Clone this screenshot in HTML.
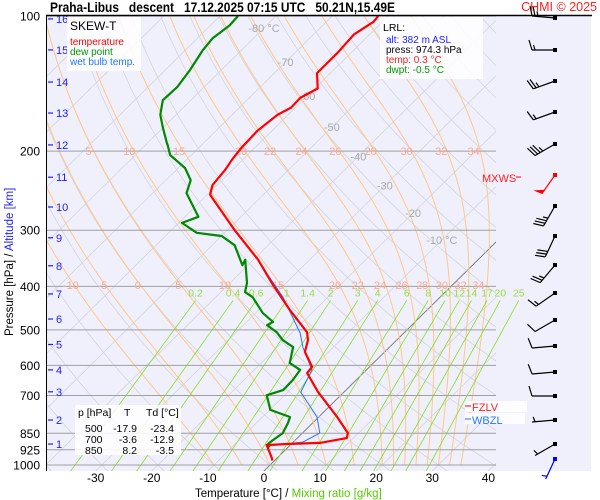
<!DOCTYPE html>
<html><head><meta charset="utf-8"><style>
body{margin:0;background:#fff;}
svg{display:block;font-family:"Liberation Sans",sans-serif;}
</style></head><body>
<svg id="c" width="600" height="500" viewBox="0 0 600 500" xmlns="http://www.w3.org/2000/svg">
<defs>
<clipPath id="plot"><rect x="47" y="16" width="449" height="455"/></clipPath>
<clipPath id="plotw"><rect x="47" y="16" width="543" height="455"/></clipPath>
</defs>
<rect x="46" y="16" width="545" height="455" fill="#f0f0fc"/>
<g id="grid" clip-path="url(#plot)"></g>
<g id="mixg" clip-path="url(#plotw)"></g>
<g id="plines"></g>
<g id="glabels"></g>
<g id="series" clip-path="url(#plot)"></g>
<g id="winds"></g>
<g id="axes"></g>
<line x1="46" y1="15.5" x2="592" y2="15.5" stroke="#000" stroke-width="1.5"/>
<line x1="46.5" y1="16" x2="46.5" y2="471" stroke="#000" stroke-width="1"/>
<text x="50" y="12" font-size="14" font-weight="bold" xml:space="preserve" textLength="345" lengthAdjust="spacingAndGlyphs">Praha-Libus   descent   17.12.2025 07:15 UTC   50.21N,15.49E</text>
<text x="597" y="11" font-size="12.5" fill="#ff2020" text-anchor="end">CHMI © 2025</text>
<g>
<rect x="67" y="17" width="74" height="54" fill="#fff" opacity="0.85"/>
<text x="70" y="30" font-size="12">SKEW-T</text>
<text x="70" y="45" font-size="10" fill="#ff0000">temperature</text>
<text x="70" y="55" font-size="10" fill="#009900">dew point</text>
<text x="70" y="65" font-size="10" fill="#2277ff">wet bulb temp.</text>
</g>
<g>
<rect x="380" y="17" width="103" height="62" fill="#fff" opacity="0.85"/>
<text x="383" y="31" font-size="10.5">LRL:</text>
<text x="386" y="43" font-size="10" fill="#2020ff">alt: 382 m ASL</text>
<text x="386" y="53" font-size="10">press: 974.3 hPa</text>
<text x="386" y="63" font-size="10" fill="#ff2020">temp: 0.3 °C</text>
<text x="386" y="73" font-size="10" fill="#009900">dwpt: -0.5 °C</text>
</g>
<g font-size="10.5">
<rect x="75" y="405" width="106" height="50" fill="#fff" opacity="0.85"/>
<text x="78" y="416">p [hPa]</text><text x="124" y="416">T</text><text x="146" y="416">Td [°C]</text>
<text x="85" y="432">500</text><text x="137" y="432" text-anchor="end">-17.9</text><text x="174" y="432" text-anchor="end">-23.4</text>
<text x="85" y="443">700</text><text x="137" y="443" text-anchor="end">-3.6</text><text x="174" y="443" text-anchor="end">-12.9</text>
<text x="85" y="454">850</text><text x="137" y="454" text-anchor="end">8.2</text><text x="174" y="454" text-anchor="end">-3.5</text>
</g>
<g font-size="11">
<rect x="465" y="401" width="62" height="11" fill="#fff" opacity="0.85"/>
<rect x="465" y="413" width="60" height="11" fill="#fff" opacity="0.85"/>
<line x1="465" y1="406" x2="471" y2="406" stroke="#ff0000"/><text x="472" y="411" fill="#ff2020">FZLV</text>
<line x1="465" y1="419" x2="471" y2="419" stroke="#2277ff"/><text x="472" y="424" fill="#2277ff">WBZL</text>
<text x="482" y="182" fill="#ff2020">MXWS</text><line x1="516" y1="177" x2="521" y2="177" stroke="#ff0000"/>
</g>
<text x="195" y="497" font-size="11.5">Temperature [°C]  /  <tspan fill="#55cc00">Mixing ratio [g/kg]</tspan></text>
<text transform="translate(13,336) rotate(-90)" font-size="11.5">Pressure [hPa]  /  <tspan fill="#2020ff">Altitude [km]</tspan></text>
</svg>
<script>
// ---- data ----
const tempP = [977,962,903,898,893,871,849,782,688,624,605,560,527,506,452,397,349,300,250,238,220,209,199,196,180,166,160,152,145,134,121,110,103,100];
const tempT = [-0.4,-1.1,-4.2,-0.8,4.9,8.8,8.1,3.3,-4.6,-10.0,-10.2,-14.2,-15.8,-17.4,-24.4,-32.0,-39.2,-48.7,-59.5,-60.8,-61.3,-61.9,-62.3,-62.4,-62.6,-61.9,-60.8,-60.9,-59.5,-62.4,-62.4,-62.8,-61.6,-61.8];
const dewP = [912,903,880,849,806,782,754,699,681,647,614,593,546,527,506,488,480,459,423,412,393,349,359,324,309,304,289,280,248,232,218,204,194,192,177,166,154,144,132,119,112,105,100];
const dewT = [-3.3,-4.2,-4.0,-3.5,-4.4,-5.1,-9.9,-13.2,-11.2,-11.3,-11.8,-14.9,-17.2,-20.3,-22.8,-25.8,-25.3,-28.7,-33.4,-35.7,-37.0,-41.5,-41.0,-46.0,-50.0,-55.0,-59.4,-57.6,-64.0,-65.6,-68.8,-73.8,-76.0,-76.5,-80.1,-82.8,-85.0,-84.8,-85.6,-86.9,-87.3,-86.6,-86.8];
const wbP = [903,902,889,849,782,688,614,547,508,423,355];
const wbT = [-4.0,-2.4,1.7,3.1,-0.3,-7.7,-9.7,-15.4,-18.5,-28.0,-38.3];
const pLevels = [100,200,300,400,500,600,700,850,925,1000];
const altKm = [16,15,14,13,12,11,10,9,8,7,6,5,4,3,2,1];
const altP = [101.5,119,140.3,164.5,193.7,228.6,266.3,311.8,360,416,473,539,614,687,794,898];
const xTicks = [-30,-20,-10,0,10,20,30,40];
const isoLabels = [-80,-70,-60,-50,-40,-30,-20,-10];
const isoLabelP = [106.3,126.6,150.6,176.8,205.3,238.6,274.8,315.5];
const moistTheta = [-10,-5,0,5,10,15,20,22,24,26,28,30,32,34];
const mixW = [0.2,0.4,0.6,1,1.4,2,3,4,6,8,10,12,14,17,20,25];
const windDir = [275,270,250,250,240,215,210,205,220,235,240,265,265,270,265,240,205];
const windSpd = [25,15,25,15,35,50,35,30,25,15,10,10,10,10,5,5,5];
const windY = [18,50,81,112,144,175,206,236,265,293,320,346,372,396,420,444,459];

// ---- scales ----
function yP(p){return 16+449*Math.log10(p/100);}
function xT(T,p){return 264+5.61*T+1.013*(471-yP(p));}
const NS='http://www.w3.org/2000/svg';
function mk(tag,attrs,parent){const e=document.createElementNS(NS,tag);for(const k in attrs)e.setAttribute(k,attrs[k]);parent.appendChild(e);return e;}
const grid=document.getElementById('grid'),gl=document.getElementById('glabels');

for(let T=-130;T<=50;T+=10){
  const l=mk('line',{x1:xT(T,1050),y1:yP(1050),x2:xT(T,95),y2:yP(95),stroke:T===0?'#666':'#d4d4dc','stroke-width':0.8},grid);
  
  
}
for(let th=-40;th<=220;th+=10){
  let d='';
  for(let p=1050;p>=95;p-=10){const T=(th+273.15)*Math.pow(p/1000,0.2857)-273.15;d+=(d?'L':'M')+xT(T,p).toFixed(1)+','+yP(p).toFixed(1);}
  const e=mk('path',{d:d,fill:'none',stroke:'#d4d4dc','stroke-width':0.8},grid);
  
  
}
function es(T){return 6.112*Math.exp(17.67*T/(T+243.5));}
function moist(th){
  const pts=[];let T=th+273.15;
  for(let p=1000;p>=95;p-=2){
    pts.push([p,T-273.15]);
    const e=es(T-273.15),rs=0.622*e/(p-e);
    const dTdp=(287*T+2.5e6*rs)/(1004+2.5e6*2.5e6*rs*0.622/(287*T*T))/p;
    T-=dTdp*2;
  }
  return pts;
}
moistTheta.forEach(th=>{
  const pts=moist(th);let d='';
  pts.forEach(q=>{d+=(d?'L':'M')+xT(q[1],q[0]).toFixed(1)+','+yP(q[0]).toFixed(1);});
  const e=mk('path',{d:d,fill:'none',stroke:'#ffc888','stroke-width':1},grid);
  
  
  [207,412].forEach(pl=>{
    const q=pts.find(z=>z[0]<=pl);if(!q)return;
    const x=xT(q[1],q[0])-8;
    if(x<50||x>490)return;
    if(pl===207&&th<5)return;
    const t=mk('text',{x:x,y:yP(pl)-3,'font-size':11,fill:'#ffa890','text-anchor':'middle'},gl);
    t.textContent=th;
    
    
  });
});
const mixg=document.getElementById('mixg');
function tdFromW(w,p){const e=p*w/(622+w);const l=Math.log(e/6.112);return 243.5*l/(17.67-l);}
mixW.forEach(w=>{
  const x1=xT(tdFromW(w,1050),1050),x2=xT(tdFromW(w,430),430);
  const e=mk('line',{x1:x1,y1:yP(1050),x2:x2,y2:yP(430),stroke:'#88dd22','stroke-width':0.8},mixg);
  
  
  const t=mk('text',{x:x2,y:yP(430)-4,'font-size':10.5,fill:'#99dd44','text-anchor':'middle'},gl);
  t.textContent=w;
  
  
});
isoLabels.forEach((T,i)=>{
  const p=isoLabelP[i];
  const t=mk('text',{x:xT(T,p),y:yP(p)+4,'font-size':11,fill:'#aaaaaa','text-anchor':'middle'},gl);
  t.textContent=(T===-80||T===-10)?T+' °C':T;
  
  
});
const pl=document.getElementById('plines'),ax=document.getElementById('axes');
pLevels.forEach(p=>{
  const y=yP(p);
  const l=mk('line',{x1:46,y1:y,x2:496,y2:y,stroke:'#a0a0a0','stroke-width':1},pl);
  
  
  const t=mk('text',{x:40,y:y+4.5,'font-size':12,'text-anchor':'end'},ax);
  t.textContent=p;
  
  
});
altKm.forEach((k,i)=>{
  const y=yP(altP[i]);
  const l=mk('line',{x1:48,y1:y,x2:53,y2:y,stroke:'#2020ff','stroke-width':1.2},ax);
  
  
  const t=mk('text',{x:56,y:y+4,'font-size':11,fill:'#2020ff'},ax);
  t.textContent=k;
  
  
});
xTicks.forEach(T=>{
  const t=mk('text',{x:264+5.61*T,y:482,'font-size':12,'text-anchor':'middle'},ax);
  t.textContent=T;
  
  
});
const sg=document.getElementById('series');
function series(P,T,color,w,name){
  let d='';P.forEach((p,i)=>{d+=(d?'L':'M')+xT(T[i],p).toFixed(1)+','+yP(p).toFixed(1);});
  const e=mk('path',{d:d,fill:'none',stroke:color,'stroke-width':w,'stroke-linejoin':'round'},sg);
  
  
}
series(wbP,wbT,'#2277ff',1,'wet-bulb-line');
series(dewP,dewT,'#008800',2.2,'dew-point-line');
series(tempP,tempT,'#ff0000',2.2,'temperature-line');
const wg=document.getElementById('winds');
windY.forEach((y,i)=>{
  const col=i===5?'#ff0000':(i===16?'#0000ff':'#000');
  const a=windDir[i]*Math.PI/180,L=i===16?22:23;
  const dx=Math.sin(a),dy=-Math.cos(a);
  const x0=555,ex=x0+L*dx,ey=y+L*dy;
  const g=mk('g',{},wg);
  
  
  mk('rect',{x:x0-2,y:y-2,width:4,height:4,fill:col},g);
  mk('line',{x1:x0,y1:y,x2:ex,y2:ey,stroke:col,'stroke-width':1.2},g);
  let s=windSpd[i];const nx=-dy,ny=dx;
  let px=ex,py=ey;
  while(s>=50){mk('polygon',{points:`${px},${py} ${px+nx*9+dx*2},${py+ny*9+dy*2} ${px-dx*5},${py-dy*5}`,fill:col},g);px-=dx*6;py-=dy*6;s-=50;}
  while(s>=10){mk('line',{x1:px,y1:py,x2:px+nx*10+dx*3,y2:py+ny*10+dy*3,stroke:col,'stroke-width':1.2},g);px-=dx*3;py-=dy*3;s-=10;}
  if(s>=5){if(px===ex&&py===ey){px-=dx*3;py-=dy*3;}mk('line',{x1:px,y1:py,x2:px+nx*5+dx*1.5,y2:py+ny*5+dy*1.5,stroke:col,'stroke-width':1.2},g);}
});
</script>
</body></html>
